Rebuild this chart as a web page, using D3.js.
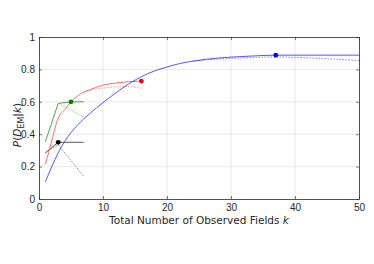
<!DOCTYPE html>
<html>
<head>
<meta charset="utf-8">
<script src="https://cdn.jsdelivr.net/npm/d3@7"></script>
<style>
  body { margin: 0; background: #fff; }
  svg { font-family: 'DejaVu Sans', sans-serif; }
</style>
</head>
<body>
<svg></svg>
<script>
let svgWidth = 374
let svgHeight = 264
let plotLeft = 39, plotRight = 359, plotTop = 37, plotBottom = 199

/* curves: k values and P values */
let blueK = [1, 2, 3, 4, 5, 6, 7, 8, 10, 12, 14, 16, 18, 20, 22, 24, 26, 28, 30, 33, 37, 50]
let blueP = [0.105, 0.2, 0.285, 0.355, 0.41, 0.455, 0.495, 0.53, 0.595, 0.655, 0.71, 0.755, 0.79, 0.815, 0.836, 0.851, 0.862, 0.87, 0.876, 0.882, 0.888, 0.888]
let blueDotK = [24, 26, 30, 34, 37, 40, 45, 50]
let blueDotP = [0.851, 0.858, 0.868, 0.874, 0.877, 0.874, 0.866, 0.855]
let redK = [1, 2, 3, 4, 5, 6, 7, 8, 10, 12, 14, 16]
let redP = [0.215, 0.36, 0.5, 0.55, 0.6, 0.635, 0.66, 0.675, 0.703, 0.716, 0.724, 0.728]
let redDotK = [7, 8, 10, 12, 13, 14, 15, 16]
let redDotP = [0.66, 0.672, 0.685, 0.692, 0.694, 0.694, 0.69, 0.683]
let greenK = [1, 3, 5, 7]
let greenP = [0.355, 0.59, 0.6, 0.6]
let greenDotK = [3, 5, 7]
let greenDotP = [0.59, 0.55, 0.505]
let blackK = [1, 3, 7]
let blackP = [0.285, 0.35, 0.35]
let blackDotK = [1, 3, 7]
let blackDotP = [0.285, 0.335, 0.14]

let markers = [
  {k: 37, p: 0.888, c: '#0000ff'},
  {k: 16, p: 0.728, c: '#ff0000'},
  {k: 5, p: 0.6, c: '#008000'},
  {k: 3, p: 0.35, c: '#000000'}
]

let xTicks = [0, 10, 20, 30, 40, 50]
let yTicks = [0, 0.2, 0.4, 0.6, 0.8, 1]

let svg = d3.select('svg')
    .attr('width', svgWidth)
    .attr('height', svgHeight)

let xScale = d3.scaleLinear().domain([0, 50]).range([plotLeft, plotRight])
let yScale = d3.scaleLinear().domain([0, 1]).range([plotBottom, plotTop])

/* grid */
svg.append('g')
  .selectAll('line')
  .data(xTicks.slice(1, -1))
  .enter().append('line')
    .attr('x1', d => xScale(d)).attr('x2', d => xScale(d))
    .attr('y1', plotTop).attr('y2', plotBottom)
    .attr('stroke', '#e3e3e3').attr('stroke-width', 0.8)
svg.append('g')
  .selectAll('line')
  .data(yTicks.slice(1, -1))
  .enter().append('line')
    .attr('y1', d => yScale(d)).attr('y2', d => yScale(d))
    .attr('x1', plotLeft).attr('x2', plotRight)
    .attr('stroke', '#e3e3e3').attr('stroke-width', 0.8)

/* axes */
svg.append('g')
    .attr('transform', `translate(0, ${plotBottom})`)
    .call(d3.axisBottom(xScale).tickValues(xTicks).tickSizeInner(-3).tickSizeOuter(0).tickPadding(5))
svg.append('g')
    .attr('transform', `translate(0, ${plotTop})`)
    .call(d3.axisTop(xScale).tickValues(xTicks).tickSizeInner(-3).tickSizeOuter(0).tickFormat(''))
svg.append('g')
    .attr('transform', `translate(${plotLeft}, 0)`)
    .call(d3.axisLeft(yScale).tickValues(yTicks).tickSizeInner(-3).tickSizeOuter(0).tickPadding(4).tickFormat(d3.format('~g')))
svg.append('g')
    .attr('transform', `translate(${plotRight}, 0)`)
    .call(d3.axisRight(yScale).tickValues(yTicks).tickSizeInner(-3).tickSizeOuter(0).tickFormat(''))

svg.selectAll('.domain').attr('stroke', '#262626').attr('stroke-width', 0.8)
svg.selectAll('.tick line').attr('stroke', '#262626').attr('stroke-width', 0.6)
svg.selectAll('.tick text').attr('fill', '#262626').style('font-size', '10px')

/* lines */
let smooth = d3.line()
  .x(d => xScale(d[0]))
  .y(d => yScale(d[1]))
  .curve(d3.curveMonotoneX)
let straight = d3.line()
  .x(d => xScale(d[0]))
  .y(d => yScale(d[1]))

function drawLine(ks, ps, color, width, dash, gen) {
  svg.append('path')
    .datum(d3.zip(ks, ps))
    .attr('d', gen)
    .attr('fill', 'none')
    .attr('stroke', color)
    .attr('stroke-width', width)
    .attr('stroke-dasharray', dash)
}

drawLine(blackDotK, blackDotP, '#666', 0.8, '1.5,1.5', straight)
drawLine(blackK, blackP, '#555', 1, null, straight)
drawLine(greenDotK, greenDotP, '#6bb86b', 0.8, '1.5,1.5', straight)
drawLine(greenK, greenP, '#3a9a3a', 0.9, null, straight)
drawLine(redDotK, redDotP, '#ff7a7a', 0.8, '1.5,1.5', smooth)
drawLine(redK, redP, '#ff5a5a', 0.9, null, smooth)
drawLine(blueDotK, blueDotP, '#5a5aff', 0.8, '1.5,1.5', smooth)
drawLine(blueK, blueP, '#2a2aff', 0.8, null, smooth)

svg.append('g')
  .selectAll('circle')
  .data(markers)
  .enter().append('circle')
    .attr('cx', d => xScale(d.k))
    .attr('cy', d => yScale(d.p))
    .attr('r', 2.4)
    .attr('fill', d => d.c)

/* labels */
let xl = svg.append('text')
    .attr('x', (plotLeft + plotRight) / 2)
    .attr('y', 224)
    .attr('text-anchor', 'middle')
    .attr('fill', '#262626')
    .style('font-size', '10.5px')
xl.append('tspan').text('Total Number of Observed Fields ')
xl.append('tspan').style('font-style', 'italic').text('k')

let yl = svg.append('text')
    .attr('transform', `translate(21, 125) rotate(-90)`)
    .attr('text-anchor', 'middle')
    .attr('fill', '#262626')
    .style('font-size', '10.5px')
yl.append('tspan').style('font-style', 'italic').text('P')
yl.append('tspan').text('(')
yl.append('tspan').style('font-style', 'italic').text('D')
yl.append('tspan').attr('dy', 3).style('font-size', '8px').text('EM')
yl.append('tspan').attr('dy', -3).text('|')
yl.append('tspan').style('font-style', 'italic').text('k')
yl.append('tspan').text(')')
</script>
</body>
</html>
